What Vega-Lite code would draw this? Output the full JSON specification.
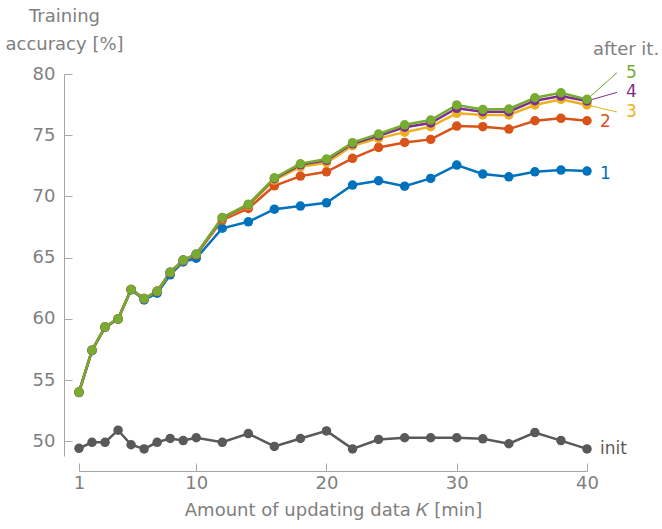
{
  "$schema": "https://vega.github.io/schema/vega-lite/v6.json",
  "autosize": {"type": "none"},
  "padding": {"left": 79, "top": 74, "right": 75, "bottom": 73},
  "width": 508,
  "height": 382,
  "config": {
    "view": {"stroke": null},
    "font": "DejaVu Sans",
    "axis": {"labelFont": "DejaVu Sans", "titleFont": "DejaVu Sans", "labelFontSize": 18, "titleFontSize": 18, "labelColor": "#808080", "titleColor": "#808080", "titleFontWeight": "normal", "domainColor": "#a6a6a6", "tickColor": "#a6a6a6", "grid": false}
  },
  "datasets": {
    "series": [
      {"k":1,"s":"init","v":49.43},{"k":2,"s":"init","v":49.92},{"k":3,"s":"init","v":49.92},{"k":4,"s":"init","v":50.91},{"k":5,"s":"init","v":49.72},{"k":6,"s":"init","v":49.38},{"k":7,"s":"init","v":49.92},{"k":8,"s":"init","v":50.23},{"k":9,"s":"init","v":50.06},{"k":10,"s":"init","v":50.29},{"k":12,"s":"init","v":49.92},{"k":14,"s":"init","v":50.63},{"k":16,"s":"init","v":49.58},{"k":18,"s":"init","v":50.23},{"k":20,"s":"init","v":50.85},{"k":22,"s":"init","v":49.38},{"k":24,"s":"init","v":50.15},{"k":26,"s":"init","v":50.29},{"k":28,"s":"init","v":50.29},{"k":30,"s":"init","v":50.29},{"k":32,"s":"init","v":50.2},{"k":34,"s":"init","v":49.8},{"k":36,"s":"init","v":50.71},{"k":38,"s":"init","v":50.06},{"k":40,"s":"init","v":49.38},

      {"k":1,"s":"1","v":53.98},{"k":2,"s":"1","v":57.4},{"k":3,"s":"1","v":59.3},{"k":4,"s":"1","v":59.97},{"k":5,"s":"1","v":62.37},{"k":6,"s":"1","v":61.55},{"k":7,"s":"1","v":62.1},{"k":8,"s":"1","v":63.6},{"k":9,"s":"1","v":64.65},{"k":10,"s":"1","v":64.95},{"k":12,"s":"1","v":67.4},{"k":14,"s":"1","v":67.93},{"k":16,"s":"1","v":68.96},{"k":18,"s":"1","v":69.21},{"k":20,"s":"1","v":69.48},{"k":22,"s":"1","v":70.93},{"k":24,"s":"1","v":71.28},{"k":26,"s":"1","v":70.84},{"k":28,"s":"1","v":71.47},{"k":30,"s":"1","v":72.56},{"k":32,"s":"1","v":71.83},{"k":34,"s":"1","v":71.6},{"k":36,"s":"1","v":72.01},{"k":38,"s":"1","v":72.15},{"k":40,"s":"1","v":72.07},

      {"k":1,"s":"2","v":54.0},{"k":2,"s":"2","v":57.43},{"k":3,"s":"2","v":59.33},{"k":4,"s":"2","v":60.0},{"k":5,"s":"2","v":62.4},{"k":6,"s":"2","v":61.64},{"k":7,"s":"2","v":62.23},{"k":8,"s":"2","v":63.76},{"k":9,"s":"2","v":64.75},{"k":10,"s":"2","v":65.22},{"k":12,"s":"2","v":68.07},{"k":14,"s":"2","v":69.02},{"k":16,"s":"2","v":70.87},{"k":18,"s":"2","v":71.66},{"k":20,"s":"2","v":72.01},{"k":22,"s":"2","v":73.11},{"k":24,"s":"2","v":74.0},{"k":26,"s":"2","v":74.41},{"k":28,"s":"2","v":74.66},{"k":30,"s":"2","v":75.75},{"k":32,"s":"2","v":75.7},{"k":34,"s":"2","v":75.5},{"k":36,"s":"2","v":76.18},{"k":38,"s":"2","v":76.38},{"k":40,"s":"2","v":76.18},

      {"k":1,"s":"3","v":54.02},{"k":2,"s":"3","v":57.44},{"k":3,"s":"3","v":59.34},{"k":4,"s":"3","v":60.0},{"k":5,"s":"3","v":62.4},{"k":6,"s":"3","v":61.66},{"k":7,"s":"3","v":62.25},{"k":8,"s":"3","v":63.8},{"k":9,"s":"3","v":64.78},{"k":10,"s":"3","v":65.27},{"k":12,"s":"3","v":68.2},{"k":14,"s":"3","v":69.25},{"k":16,"s":"3","v":71.34},{"k":18,"s":"3","v":72.42},{"k":20,"s":"3","v":72.75},{"k":22,"s":"3","v":74.14},{"k":24,"s":"3","v":74.74},{"k":26,"s":"3","v":75.25},{"k":28,"s":"3","v":75.7},{"k":30,"s":"3","v":76.79},{"k":32,"s":"3","v":76.65},{"k":34,"s":"3","v":76.65},{"k":36,"s":"3","v":77.47},{"k":38,"s":"3","v":77.93},{"k":40,"s":"3","v":77.47},

      {"k":1,"s":"4","v":54.03},{"k":2,"s":"4","v":57.44},{"k":3,"s":"4","v":59.34},{"k":4,"s":"4","v":60.0},{"k":5,"s":"4","v":62.4},{"k":6,"s":"4","v":61.66},{"k":7,"s":"4","v":62.26},{"k":8,"s":"4","v":63.81},{"k":9,"s":"4","v":64.8},{"k":10,"s":"4","v":65.28},{"k":12,"s":"4","v":68.25},{"k":14,"s":"4","v":69.33},{"k":16,"s":"4","v":71.45},{"k":18,"s":"4","v":72.58},{"k":20,"s":"4","v":72.95},{"k":22,"s":"4","v":74.3},{"k":24,"s":"4","v":74.95},{"k":26,"s":"4","v":75.65},{"k":28,"s":"4","v":76.0},{"k":30,"s":"4","v":77.2},{"k":32,"s":"4","v":76.92},{"k":34,"s":"4","v":76.92},{"k":36,"s":"4","v":77.82},{"k":38,"s":"4","v":78.2},{"k":40,"s":"4","v":77.8},

      {"k":1,"s":"5","v":54.03},{"k":2,"s":"5","v":57.44},{"k":3,"s":"5","v":59.34},{"k":4,"s":"5","v":60.0},{"k":5,"s":"5","v":62.4},{"k":6,"s":"5","v":61.66},{"k":7,"s":"5","v":62.26},{"k":8,"s":"5","v":63.81},{"k":9,"s":"5","v":64.8},{"k":10,"s":"5","v":65.3},{"k":12,"s":"5","v":68.28},{"k":14,"s":"5","v":69.37},{"k":16,"s":"5","v":71.52},{"k":18,"s":"5","v":72.67},{"k":20,"s":"5","v":73.05},{"k":22,"s":"5","v":74.39},{"k":24,"s":"5","v":75.1},{"k":26,"s":"5","v":75.85},{"k":28,"s":"5","v":76.24},{"k":30,"s":"5","v":77.47},{"k":32,"s":"5","v":77.11},{"k":34,"s":"5","v":77.14},{"k":36,"s":"5","v":78.06},{"k":38,"s":"5","v":78.47},{"k":40,"s":"5","v":77.93}
    ],
    "leaders": [
      {"s":"3","k":40,"v":77.47},{"s":"3","k":42.3,"v":76.9},
      {"s":"4","k":40,"v":77.8},{"s":"4","k":42.3,"v":78.5},
      {"s":"5","k":40,"v":77.93},{"s":"5","k":42.3,"v":80.1}
    ],
    "labels": [
      {"s":"1","t":"1","k":41.0,"v":71.8},
      {"s":"2","t":"2","k":41.0,"v":76.1},
      {"s":"3","t":"3","k":43.0,"v":76.9},
      {"s":"4","t":"4","k":43.0,"v":78.5},
      {"s":"5","t":"5","k":43.0,"v":80.1},
      {"s":"init","t":"init","k":41.0,"v":49.4}
    ],
    "header": [
      {"s":"hdr","t":"after it.","k":43.0,"v":81.95}
    ]
  },
  "encoding": {
    "x": {"field": "k", "type": "quantitative", "scale": {"domain": [1, 40], "nice": false, "zero": false},
      "axis": {"values": [1, 10, 20, 30, 40], "offset": 15, "tickSize": -8, "labelPadding": 11, "titlePadding": 9, "title": "Amount of updating data 𝐾 [min]", "labelFlush": false}},
    "y": {"field": "v", "type": "quantitative", "scale": {"domain": [48.8, 80], "nice": false, "zero": false},
      "axis": {"values": [50, 55, 60, 65, 70, 75, 80], "offset": 15, "tickSize": -8, "labelPadding": 17, "title": ["Training", "accuracy [%]"], "titleAngle": 0, "titleAlign": "center", "titleBaseline": "alphabetic", "titleX": 0, "titleY": -53, "titleLineHeight": 28}},
    "color": {"field": "s", "type": "nominal", "legend": null,
      "scale": {"domain": ["init", "1", "2", "3", "4", "5", "hdr"], "range": ["#595959", "#0072BD", "#D95319", "#EDB120", "#7E2F8E", "#77AC30", "#808080"]}}
  },
  "layer": [
    {"data": {"name": "leaders"}, "mark": {"type": "line", "strokeWidth": 1}, "encoding": {"detail": {"field": "s"}}},
    {"data": {"name": "series"}, "mark": {"type": "line", "strokeWidth": 2.5}, "encoding": {"order": {"field": "k"}}},
    {"data": {"name": "series"}, "mark": {"type": "circle", "size": 90, "opacity": 1}},
    {"data": {"name": "labels"}, "mark": {"type": "text", "align": "left", "baseline": "middle", "fontSize": 17, "font": "DejaVu Sans"}, "encoding": {"text": {"field": "t"}}},
    {"data": {"name": "header"}, "mark": {"type": "text", "align": "center", "baseline": "middle", "fontSize": 18, "font": "DejaVu Sans"}, "encoding": {"text": {"field": "t"}}}
  ]
}
